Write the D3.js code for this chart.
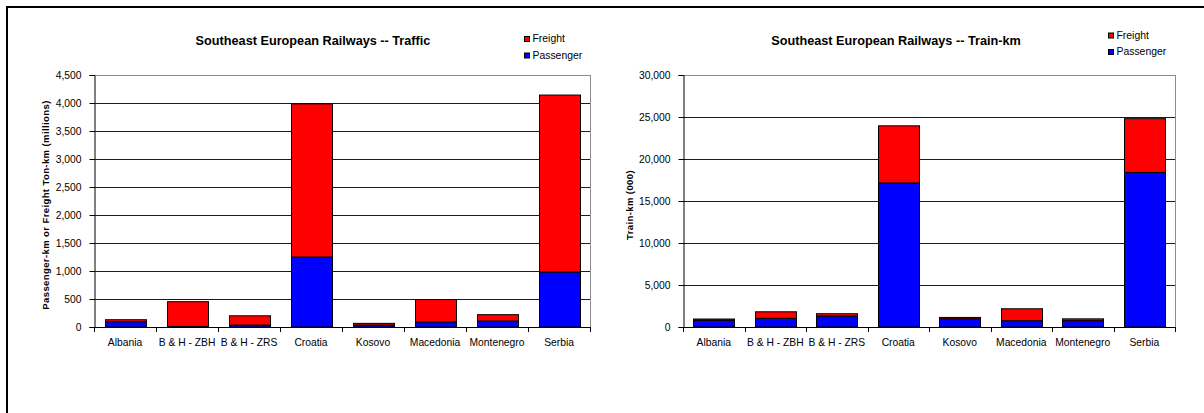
<!DOCTYPE html>
<html>
<head>
<meta charset="utf-8">
<script src="https://cdn.jsdelivr.net/npm/d3@7"></script>
<style>
  body { margin: 0; background: #fff; }
  svg { display: block; font-family: "Liberation Sans", Arial, sans-serif; }
  .title { font-size: 12.7px; font-weight: bold; }
  .ytitle { font-size: 9.5px; font-weight: bold; }
  .tick text { font-size: 10.3px; fill: #000; }
  .legend text { font-size: 10.4px; }
</style>
</head>
<body>
<svg id="chart" width="1204" height="413"></svg>
<script>
// Categories
const countries = ["Albania", "B & H - ZBH", "B & H - ZRS", "Croatia", "Kosovo", "Macedonia", "Montenegro", "Serbia"];

// Traffic (millions of passenger-km / ton-km)
const trafficPassenger = [95, 10, 35, 1250, 35, 90, 107, 982];
const trafficFreight = [35, 442, 165, 2735, 30, 400, 113, 3160];

// Train-km (000)
const trainPassenger = [800, 1030, 1300, 17150, 980, 750, 750, 18400];
const trainFreight = [150, 780, 280, 6800, 160, 1420, 220, 6400];

const seriesNames = ["Passenger", "Freight"];
const colors = { Passenger: "#0000ff", Freight: "#ff0000" };

const svg = d3.select("#chart");

// outer frame (runs off the page on the right and bottom)
svg.append("rect")
  .attr("x", 7).attr("y", 7)
  .attr("width", 1300).attr("height", 500)
  .attr("fill", "none")
  .attr("stroke", "#000")
  .attr("stroke-width", 2);

const drawChart = (opts) => {
  const { left, right, top, bottom, maxY, step, passenger, freight, title, titleX, yTitle, yTitleX, legendX, legendY } = opts;

  const x = d3.scaleBand()
    .domain(countries)
    .range([left, right])
    .paddingInner(0.34)
    .paddingOuter(0.17);

  const y = d3.scaleLinear()
    .domain([0, maxY])
    .range([bottom, top]);

  const ticks = d3.range(0, maxY + 1, step);

  const g = svg.append("g");

  // grid lines
  g.selectAll(".grid")
    .data(ticks.filter(t => t > 0))
    .enter().append("line")
      .attr("x1", left).attr("x2", right)
      .attr("y1", d => Math.round(y(d)) + 0.5)
      .attr("y2", d => Math.round(y(d)) + 0.5)
      .attr("stroke", d => d === maxY ? "#8c8c8c" : "#1a1a1a")
      .attr("stroke-width", 1);

  // right plot edge
  g.append("line")
    .attr("x1", right + 0.5).attr("x2", right + 0.5)
    .attr("y1", top).attr("y2", bottom)
    .attr("stroke", "#8c8c8c");

  // stacked bars
  const rows = countries.map((c, i) => ({ name: c, Passenger: passenger[i], Freight: freight[i] }));
  const stacked = d3.stack().keys(seriesNames)(rows);

  g.selectAll(".layer")
    .data(stacked)
    .enter().append("g")
      .attr("fill", d => colors[d.key])
    .selectAll("rect")
    .data(d => d)
    .enter().append("rect")
      .attr("x", d => Math.round(x(d.data.name)) + 0.5)
      .attr("width", Math.round(x.bandwidth()))
      .attr("y", d => y(d[1]))
      .attr("height", d => y(d[0]) - y(d[1]))
      .attr("stroke", "#000")
      .attr("stroke-width", 1);

  // y axis
  const yAxis = g.append("g")
    .attr("transform", "translate(" + (left + 0.5) + ",0)")
    .call(d3.axisLeft(y).tickValues(ticks).tickSize(5).tickPadding(8).tickFormat(d3.format(",")));
  yAxis.select(".domain").attr("stroke", "#000");

  // x axis: ticks at category boundaries
  const xAxis = g.append("g")
    .attr("transform", "translate(0," + (bottom + 0.5) + ")")
    .call(d3.axisBottom(x).tickSize(0).tickPadding(11));
  xAxis.select(".domain").attr("d", "M" + left + ",0H" + right).attr("stroke", "#000");

  const step_ = x.step();
  g.selectAll(".xsep")
    .data(d3.range(0, countries.length + 1))
    .enter().append("line")
      .attr("x1", i => Math.round(left + i * step_) + 0.5)
      .attr("x2", i => Math.round(left + i * step_) + 0.5)
      .attr("y1", bottom)
      .attr("y2", bottom + 5)
      .attr("stroke", "#000");

  // title
  svg.append("text")
    .attr("class", "title")
    .attr("x", titleX)
    .attr("y", 45)
    .attr("text-anchor", "middle")
    .text(title);

  // y axis title
  svg.append("text")
    .attr("class", "ytitle")
    .attr("transform", "translate(" + yTitleX + "," + ((top + bottom) / 2 + 4) + ") rotate(-90)")
    .attr("text-anchor", "middle")
    .attr("letter-spacing", "0.4px")
    .text(yTitle);

  // legend
  const legend = svg.append("g")
    .attr("class", "legend")
    .attr("transform", "translate(" + legendX + "," + legendY + ")");

  ["Freight", "Passenger"].forEach((k, i) => {
    legend.append("rect")
      .attr("x", 0.5).attr("y", i * 16.5 + 0.5)
      .attr("width", 5).attr("height", 5)
      .attr("fill", colors[k])
      .attr("stroke", "#000");
    legend.append("text")
      .attr("x", 8.5)
      .attr("y", i * 16.5 + 6)
      .text(k);
  });
};

drawChart({
  left: 94, right: 590, top: 75, bottom: 327,
  maxY: 4500, step: 500,
  passenger: trafficPassenger, freight: trafficFreight,
  title: "Southeast European Railways -- Traffic", titleX: 313,
  yTitle: "Passenger-km or Freight Ton-km (millions)", yTitleX: 49,
  legendX: 524, legendY: 36
});

drawChart({
  left: 683, right: 1175, top: 75, bottom: 327,
  maxY: 30000, step: 5000,
  passenger: trainPassenger, freight: trainFreight,
  title: "Southeast European Railways -- Train-km", titleX: 896,
  yTitle: "Train-km  (000)", yTitleX: 633,
  legendX: 1108, legendY: 32.5
});
</script>
</body>
</html>
